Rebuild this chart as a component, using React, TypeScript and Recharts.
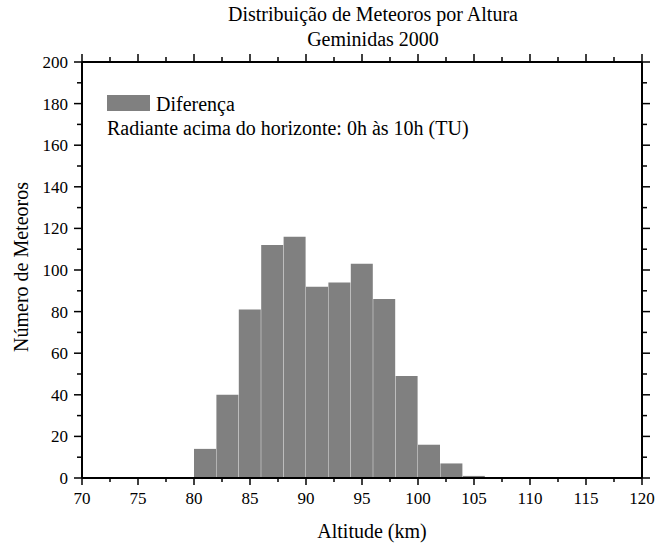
import { ComposedChart, Bar, Line, XAxis, YAxis, Legend } from "recharts";

// bins of 2 km, start of each bin
const binStarts = [
  70, 72, 74, 76, 78, 80, 82, 84, 86, 88, 90, 92, 94, 96, 98, 100, 102, 104,
  106, 108, 110, 112, 114, 116, 118,
];
const counts = [
  0, 0, 0, 0, 0, 14, 40, 81, 112, 116, 92, 94, 103, 86, 49, 16, 7, 1, 0, 0, 0,
  0, 0, 0, 0,
];

const xTicks = [
  70, 72.5, 75, 77.5, 80, 82.5, 85, 87.5, 90, 92.5, 95, 97.5, 100, 102.5, 105,
  107.5, 110, 112.5, 115, 117.5, 120,
];
const yTicks = [
  0, 10, 20, 30, 40, 50, 60, 70, 80, 90, 100, 110, 120, 130, 140, 150, 160, 170,
  180, 190, 200,
];

const title = "Distribuição de Meteoros por Altura";
const subtitle = "Geminidas 2000";
const seriesName = "Diferença";
const note = "Radiante acima do horizonte: 0h às 10h (TU)";

const FONT = '"Liberation Serif", "DejaVu Serif", serif';

const data = binStarts.map((b, i) => ({ bin: b, count: counts[i] }));

const BottomTick = ({ x, y, payload }: any) => {
  const major = payload.value % 5 === 0;
  return (
    <g>
      <line x1={x} y1={y} x2={x} y2={y + (major ? 7 : 4)} stroke="#000" strokeWidth={1.5} />
      {major && (
        <text x={x} y={y + 26} textAnchor="middle" fontSize={17} fontFamily={FONT} fill="#000">
          {payload.value}
        </text>
      )}
    </g>
  );
};

const TopTick = ({ x, y, payload }: any) => {
  const major = payload.value % 5 === 0;
  return <line x1={x} y1={y} x2={x} y2={y - (major ? 8 : 5)} stroke="#000" strokeWidth={1.5} />;
};

const LeftTick = ({ x, y, payload }: any) => {
  const major = payload.value % 20 === 0;
  return (
    <g>
      <line x1={x} y1={y} x2={x - (major ? 8 : 5)} y2={y} stroke="#000" strokeWidth={1.5} />
      {major && (
        <text x={x - 14} y={y + 6} textAnchor="end" fontSize={17} fontFamily={FONT} fill="#000">
          {payload.value}
        </text>
      )}
    </g>
  );
};

const RightTick = ({ x, y, payload }: any) => {
  const major = payload.value % 20 === 0;
  return <line x1={x} y1={y} x2={x + (major ? 8 : 5)} y2={y} stroke="#000" strokeWidth={1.5} />;
};

const LegendBox = () => (
  <div style={{ fontFamily: FONT, fontSize: 20, lineHeight: "24px", color: "#000", whiteSpace: "nowrap" }}>
    <div>
      <span
        style={{
          display: "inline-block",
          width: 43,
          height: 16,
          background: "#808080",
          marginRight: 6,
        }}
      />
      {seriesName}
    </div>
    <div>{note}</div>
  </div>
);

export default function App() {
  return (
    <div style={{ position: "absolute", left: 0, top: 0, width: 657, height: 543, background: "#fff", fontFamily: FONT }}>
      <div
        style={{
          position: "absolute",
          left: 373,
          top: 2,
          transform: "translateX(-50%)",
          textAlign: "center",
          fontSize: 20,
          lineHeight: "25px",
          whiteSpace: "nowrap",
          color: "#000",
        }}
      >
        <div>{title}</div>
        <div>{subtitle}</div>
      </div>
      <ComposedChart
        width={657}
        height={543}
        data={data}
        margin={{ top: 0, right: 0, bottom: 0, left: 0 }}
        barCategoryGap={0}
        barGap={0}
      >
        <XAxis xAxisId="bins" dataKey="bin" hide />
        <XAxis
          xAxisId="alt"
          dataKey="bin"
          type="number"
          domain={[70, 120]}
          ticks={xTicks}
          interval={0}
          allowDataOverflow
          height={65}
          tickSize={0}
          tickMargin={0}
          tickLine={false}
          tick={BottomTick}
          axisLine={{ stroke: "#000", strokeWidth: 2 }}
          label={{
            content: () => (
              <text x={372} y={538} textAnchor="middle" fontSize={20} fontFamily={FONT} fill="#000">
                Altitude (km)
              </text>
            ),
          }}
        />
        <XAxis
          xAxisId="top"
          dataKey="bin"
          orientation="top"
          type="number"
          domain={[70, 120]}
          ticks={xTicks}
          interval={0}
          allowDataOverflow
          height={62}
          tickSize={0}
          tickMargin={0}
          tickLine={false}
          tick={TopTick}
          axisLine={{ stroke: "#000", strokeWidth: 2 }}
        />
        <YAxis
          yAxisId="left"
          type="number"
          domain={[0, 200]}
          ticks={yTicks}
          interval={0}
          width={82}
          tickSize={0}
          tickMargin={0}
          tickLine={false}
          tick={LeftTick}
          axisLine={{ stroke: "#000", strokeWidth: 2 }}
          label={{
            content: () => (
              <text
                x={0}
                y={0}
                transform="translate(28,267) rotate(-90)"
                textAnchor="middle"
                fontSize={20}
                fontFamily={FONT}
                fill="#000"
              >
                Número de Meteoros
              </text>
            ),
          }}
        />
        <YAxis
          yAxisId="right"
          orientation="right"
          type="number"
          domain={[0, 200]}
          ticks={yTicks}
          interval={0}
          allowDataOverflow
          width={15}
          tickSize={0}
          tickMargin={0}
          tickLine={false}
          tick={RightTick}
          axisLine={{ stroke: "#000", strokeWidth: 2 }}
        />
        <Legend
          layout="vertical"
          align="center"
          verticalAlign="middle"
          content={() => <LegendBox />}
          wrapperStyle={{ left: 107, top: 92, width: "auto" }}
        />
        <Bar
          dataKey="count"
          name={seriesName}
          xAxisId="bins"
          yAxisId="left"
          fill="#808080"
          isAnimationActive={false}
        />
        {/* invisible helpers so the frame axes get a scale */}
        <Line
          dataKey="count"
          xAxisId="alt"
          yAxisId="right"
          stroke="none"
          dot={false}
          activeDot={false}
          legendType="none"
          isAnimationActive={false}
        />
        <Line
          dataKey="count"
          xAxisId="top"
          yAxisId="right"
          stroke="none"
          dot={false}
          activeDot={false}
          legendType="none"
          isAnimationActive={false}
        />
      </ComposedChart>
    </div>
  );
}
